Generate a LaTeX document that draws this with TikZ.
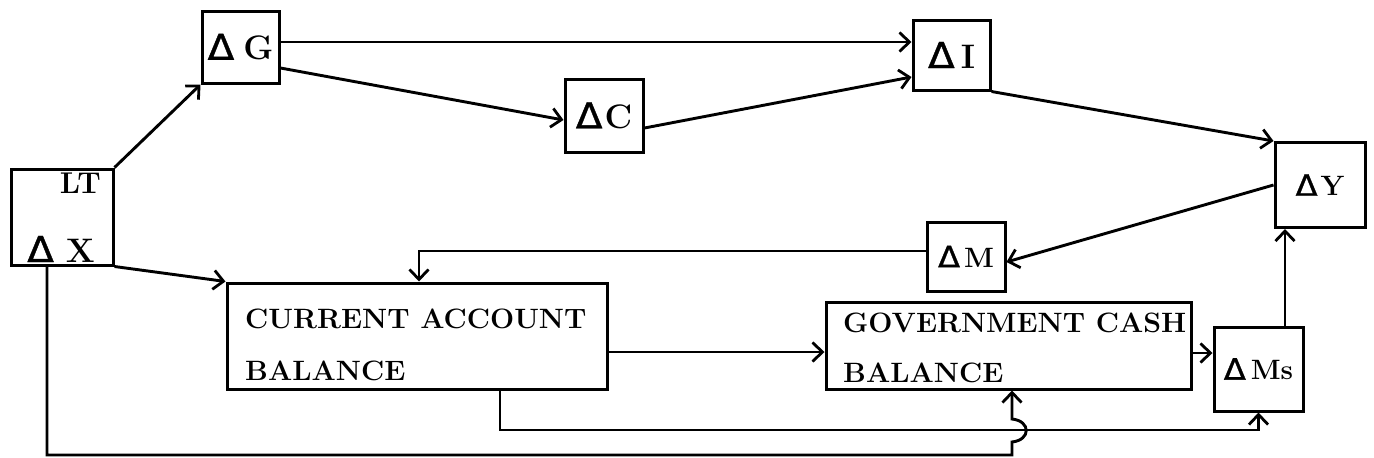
\documentclass[tikz,border=0pt]{standalone}
\usepackage{fontspec}
\usepackage{graphicx}
\usetikzlibrary{arrows.meta}
\newfontfamily\trifont[FakeBold=1]{DejaVu Sans}
\newcommand{\tri}{{\trifont\mdseries\scalebox{1.15}[1.05]{Δ}}}
\newcommand{\wide}[1]{\scalebox{1.02}[1]{#1}}
\tikzset{
  box/.style={draw, line width=3pt, inner sep=0pt},
  arr/.style={line width=2.9pt, line join=miter, -{Straight Barb[length=10pt,width=19pt,line width=2.8pt]}},
  lbl/.style={inner sep=0pt, font=\fontsize{34}{34}\selectfont\bfseries},
  slbl/.style={inner sep=0pt, font=\fontsize{28}{28}\selectfont\bfseries},
  captext/.style={inner sep=0pt, font=\fontsize{28}{28}\selectfont\bfseries},
}
\begin{document}
\begin{tikzpicture}[x=1pt,y=-1pt]
\useasboundingbox (0,0) rectangle (1374,458);
% boxes
\node[box, minimum width=102pt, minimum height=96pt] (ltx) at (62,217) {};
\node[box, lbl, minimum width=77pt, minimum height=72pt] (dg) at (240.5,47) {\tri\hspace{9pt}G};
\node[box, lbl, minimum width=78pt, minimum height=73pt] (dc) at (604,115.5) {\tri\hspace{2pt}C};
\node[box, lbl, minimum width=77pt, minimum height=70pt] (di) at (951.5,55) {\tri\hspace{6pt}I};
\node[box, slbl, minimum width=90pt, minimum height=85pt] (dy) at (1320,185) {\tri\hspace{3pt}Y};
\node[box, slbl, minimum width=78pt, minimum height=69pt] (dm) at (966,256.5) {\tri\hspace{4pt}M};
\node[box, minimum width=380pt, minimum height=106pt] (ca) at (417,336) {};
\node[box, minimum width=365pt, minimum height=87pt] (gcb) at (1008.5,345.5) {};
\node[box, slbl, minimum width=89pt, minimum height=84pt] (ms) at (1258.5,369) {\tri\hspace{5pt}Ms};
% texts in the large boxes
\node[lbl, font=\fontsize{30}{30}\selectfont\bfseries, anchor=base east] (lt) at (101,193) {LT};
\node[lbl, anchor=base west] (dx) at (27,262) {\tri\hspace{12pt}X};
\node[captext, anchor=base west] (ca1) at (245,328) {\wide{CURRENT ACCOUNT}};
\node[captext, anchor=base west] (ca2) at (245,380) {\wide{BALANCE}};
\node[captext, anchor=base west] (g1) at (843,332) {\wide{GOVERNMENT CASH}};
\node[captext, anchor=base west] (g2) at (843,382) {\wide{BALANCE}};
% connectors
\draw[arr] (ltx.north east) -- (dg.south west);
\coordinate (gA) at ([yshift=5pt]dg.east);
\draw[arr] (gA) -- (gA -| di.west);
\draw[arr] ([yshift=-21pt]dg.east) -- ([yshift=-4.5pt]dc.west);
\draw[arr] ([yshift=-12.5pt]dc.east) -- ([yshift=-22pt]di.west);
\draw[arr] (di.south east) -- (dy.north west);
\draw[arr] (dy.west) -- ([yshift=-5.5pt]dm.east);
\coordinate (mA) at ([yshift=5.5pt]dm.west);
\draw[arr] (mA) -| ([xshift=2pt]ca.north);
\draw[arr] (ltx.south east) -- (ca.north west);
\coordinate (cA) at ([yshift=-16pt]ca.east);
\draw[arr] (cA) -- (cA -| gcb.west);
\coordinate (gB) at ([yshift=-7.5pt]gcb.east);
\draw[arr] (gB) -- (gB -| ms.west);
\coordinate (sA) at ([xshift=26.5pt]ms.north);
\draw[arr] (sA) -- (sA |- dy.south);
\coordinate (cB) at ([xshift=83pt]ca.south);
\coordinate (cC) at (1258.5,430);
\draw[arr] (cB) |- (cC) -- (ms.south);
\coordinate (xA) at ([xshift=-15pt]ltx.south);
\coordinate (xB) at (1012,455);
\coordinate (xC) at (1012,442);
\coordinate (xD) at (1012,419);
\draw[arr] (xA) |- (xB) -- (xC) .. controls (1031,440) and (1031,421) .. (xD) -- ([xshift=3.5pt]gcb.south);
\end{tikzpicture}
\end{document}
